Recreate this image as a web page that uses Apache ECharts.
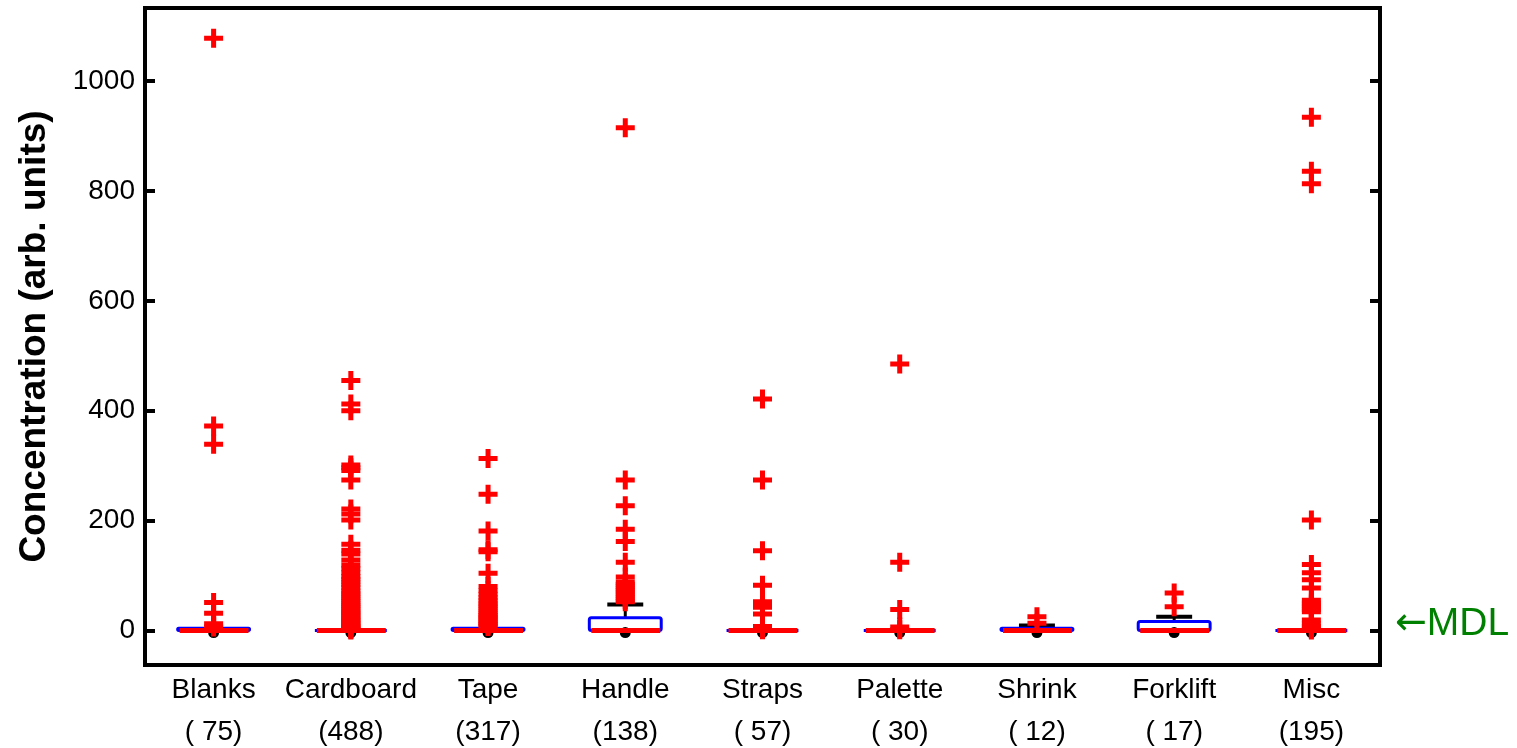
<!DOCTYPE html>
<html>
<head>
<meta charset="utf-8">
<script src="https://cdn.jsdelivr.net/npm/echarts@6/dist/echarts.min.js"></script>
<style>
  html, body { margin: 0; padding: 0; background: #fff; }
  #chart { width: 1517px; height: 748px; }
</style>
</head>
<body>
<div id="chart"></div>
<script>
  // categorias e numero de amostras
  const categories = ['Blanks', 'Cardboard', 'Tape', 'Handle', 'Straps', 'Palette', 'Shrink', 'Forklift', 'Misc'];
  const counts = ['( 75)', '(488)', '(317)', '(138)', '( 57)', '( 30)', '( 12)', '( 17)', '(195)'];
  const yTicks = [0, 200, 400, 600, 800, 1000];

  // [whisker inferior, q1, mediana, q3, whisker superior]
  const boxStats = [
    [0, 0, 0, 4, 4],
    [0, 0, 0, 0, 0],
    [0, 0, 0, 4, 4],
    [0, 0, 0, 23, 47],
    [0, 0, 0, 0, 0],
    [0, 0, 0, 0, 0],
    [0, 0, 0, 4, 9],
    [0, 0, 0, 16, 25],
    [0, 0, 0, 0, 0]
  ];

  // bolinha preta logo abaixo da mediana
  const zeroMarks = [-4, -4, -4, -4, -4, -4, -4, -4, -4];

  // outliers
  const outBlanks = [1078, 372, 339, 51, 31, 12, 6];
  const outCardboard = [455, 412, 400, 301, 296, 291, 274, 221, 212, 201, 157, 146, 139, 128, 119, 112, 105, 98, 93, 88, 83, 78, 72, 68, 64, 60, 56, 52, 48, 45, 42, 38, 35, 32, 29, 26, 23, 20, 18, 15, 12, 10, 8, 6, 4, 2, 0.5];
  const outTape = [313, 248, 181, 147, 143, 104, 80, 72, 66, 60, 55, 50, 46, 42, 38, 34, 30, 27, 24, 21, 18, 15, 12, 10, 7];
  const outHandle = [915, 274, 227, 184, 162, 124, 97, 88, 84, 80, 76, 72, 68, 64, 60, 56, 52];
  const outStraps = [421, 274, 145, 82, 52, 46, 42, 30, 7, 1];
  const outPalette = [485, 124, 38, 6, 1];
  const outShrink = [25, 13];
  const outForklift = [68, 43];
  const outMisc = [934, 836, 813, 201, 120, 105, 92, 77, 55, 50, 46, 42, 38, 34, 19, 12, 7, 3, 0.5];

  const outliers = [outBlanks, outCardboard, outTape, outHandle, outStraps, outPalette, outShrink, outForklift, outMisc];

  const outlierData = [];
  outliers.forEach((lista, i) => {
    lista.forEach((v) => outlierData.push([i, v]));
  });

  const fonte = '"Liberation Sans", Arial, Helvetica, sans-serif';
  const plus = 'path://M7,0H12V7H19V12H12V19H7V12H0V7H7Z';

  const chart = echarts.init(document.getElementById('chart'));

  const option = {
    backgroundColor: '#fff',
    animation: false,
    grid: {
      left: 145, right: 137, top: 8, bottom: 83,
      outerBoundsMode: 'none',
      containLabel: false,
      show: true, borderColor: '#000', borderWidth: 4
    },
    xAxis: {
      type: 'category',
      data: categories,
      boundaryGap: true,
      axisLine: { show: false },
      axisTick: { show: false },
      splitLine: { show: false },
      axisLabel: {
        interval: 0,
        hideOverlap: false,
        margin: 4,
        color: '#000',
        fontFamily: fonte,
        fontSize: 28,
        lineHeight: 42,
        formatter: (val, idx) => val + '\n' + counts[idx]
      }
    },
    yAxis: [
      {
        type: 'value',
        min: -63,
        max: 1133,
        position: 'left',
        name: 'Concentration (arb. units)',
        nameLocation: 'middle',
        nameGap: 92,
        nameTextStyle: { color: '#000', fontFamily: fonte, fontSize: 37, fontWeight: 'bold' },
        axisLine: { show: false },
        splitLine: { show: false },
        axisTick: { show: true, inside: true, length: 10, lineStyle: { color: '#000', width: 4 }, customValues: yTicks },
        axisLabel: {
          color: '#000', fontFamily: fonte, fontSize: 28, margin: 10, customValues: yTicks,
          formatter: (v) => String(v)
        }
      },
      {
        type: 'value',
        min: -63,
        max: 1133,
        position: 'right',
        axisLine: { show: false },
        splitLine: { show: false },
        axisTick: { show: true, inside: true, length: 10, lineStyle: { color: '#000', width: 4 }, customValues: yTicks },
        axisLabel: { show: false }
      }
    ],
    series: [
      {
        name: 'zero',
        type: 'scatter',
        z: 1,
        symbol: 'circle',
        symbolSize: 11,
        itemStyle: { color: '#000', opacity: 1 },
        data: zeroMarks.map((v, i) => [i, v])
      },
      {
        name: 'caixas',
        type: 'custom',
        z: 2,
        data: boxStats.map((s, i) => [i].concat(s)),
        encode: { x: 0, y: [1, 2, 3, 4, 5] },
        renderItem: (params, api) => {
          const i = api.value(0);
          const cx = api.coord([i, 0])[0];
          const band = api.size([1, 0])[0];
          const hw = band * 0.262;
          const yQ1 = api.coord([i, api.value(2)])[1];
          const yMed = api.coord([i, api.value(3)])[1];
          const yQ3 = api.coord([i, api.value(4)])[1];
          const yHi = api.coord([i, api.value(5)])[1];
          const filhos = [];
          if (yHi < yQ3 - 1) {
            filhos.push({
              type: 'line',
              shape: { x1: cx, y1: yQ3, x2: cx, y2: yHi },
              style: { stroke: '#000', lineWidth: 3 }
            });
            filhos.push({
              type: 'line',
              shape: { x1: cx - hw / 2, y1: yHi, x2: cx + hw / 2, y2: yHi },
              style: { stroke: '#000', lineWidth: 4 }
            });
          }
          filhos.push({
            type: 'rect',
            shape: { x: cx - hw, y: yQ3, width: hw * 2, height: yQ1 - yQ3, r: 2 },
            style: { stroke: '#0000ff', lineWidth: 3, fill: 'none' }
          });
          filhos.push({
            type: 'line',
            shape: { x1: cx - hw + 2, y1: yMed, x2: cx + hw - 1, y2: yMed },
            style: { stroke: '#ff0000', lineWidth: 5 }
          });
          return { type: 'group', children: filhos };
        }
      },
      {
        name: 'outliers',
        type: 'scatter',
        z: 3,
        symbol: plus,
        symbolSize: 19,
        itemStyle: { color: '#ff0000', opacity: 1 },
        data: outlierData
      },
      {
        name: 'mdl',
        type: 'line',
        data: [],
        markLine: {
          silent: true,
          symbol: 'none',
          lineStyle: { color: 'rgba(0,0,0,0)', width: 0 },
          label: {
            show: true,
            position: 'end',
            distance: 15,
            formatter: '{a|←}{m|MDL}',
            color: '#008000',
            rich: {
              a: { fontFamily: '"DejaVu Sans", sans-serif', fontSize: 38, color: '#008000' },
              m: { fontFamily: fonte, fontSize: 39, color: '#008000' }
            }
          },
          data: [{ yAxis: 11 }]
        }
      }
    ]
  };

  chart.setOption(option);
</script>
</body>
</html>
